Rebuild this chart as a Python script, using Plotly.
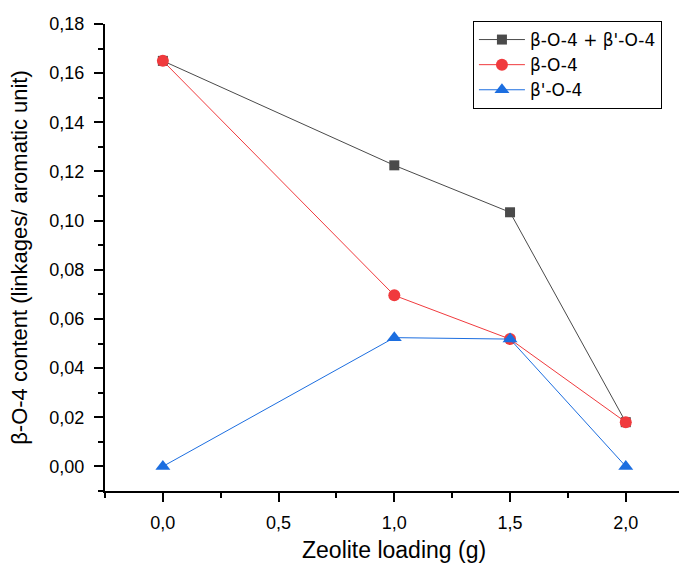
import plotly.graph_objects as go

x_vals = [0.0, 1.0, 1.5, 2.0]
total = [0.165, 0.1225, 0.1034, 0.018]
beta = [0.165, 0.0696, 0.0518, 0.018]
beta_prime = [0.0, 0.0524, 0.0518, 0.0]

series = [
    ("β-O-4 + β'-O-4", total, "#4a4a4a", "square", 10),
    ("β-O-4", beta, "#f03a3d", "circle", 12),
    ("β'-O-4", beta_prime, "#1c6ee0", "triangle-up", 13),
]

fig = go.Figure()
for name, vals, col, sym, sz in series:
    fig.add_trace(go.Scatter(
        x=x_vals, y=vals, name=name, mode="lines+markers",
        line=dict(color=col, width=1),
        marker=dict(symbol=sym, size=sz, color=col),
    ))

fig.update_layout(
    width=679, height=563,
    margin=dict(l=105, r=0, t=24, b=72),
    paper_bgcolor="white", plot_bgcolor="white",
    separators=",.",
    font=dict(family="Liberation Sans, Arial", color="black", size=18),
    showlegend=True,
    legend=dict(
        x=0.641, y=1.0064, xanchor="left", yanchor="top",
        bordercolor="black", borderwidth=1, bgcolor="white",
        font=dict(family="DejaVu Sans", size=17), tracegroupgap=0, itemwidth=46,
    ),
    annotations=[dict(
        text="Zeolite loading (g)", xref="paper", yref="paper",
        x=0.503, y=-0.126, xanchor="center", yanchor="middle",
        showarrow=False, font=dict(size=23),
    )],
)
fig.update_xaxes(
    range=[-0.25, 2.23], tickvals=[0, 0.5, 1.0, 1.5, 2.0], tickformat=".1f",
    showgrid=False, zeroline=False, showline=True, linecolor="black", linewidth=2,
    ticks="outside", ticklen=9, tickwidth=2, tickcolor="black", ticklabelstandoff=5,
    minor=dict(tickvals=[-0.25, 0.25, 0.75, 1.25, 1.75], ticks="outside", ticklen=5, tickwidth=2, tickcolor="black"),
    automargin=False,
)
fig.update_yaxes(
    range=[-0.01, 0.18], tickvals=[0, 0.02, 0.04, 0.06, 0.08, 0.10, 0.12, 0.14, 0.16, 0.18], tickformat=".2f",
    showgrid=False, zeroline=False, showline=True, linecolor="black", linewidth=2,
    ticks="outside", ticklen=9, tickwidth=2, tickcolor="black", ticklabelstandoff=6,
    minor=dict(tickvals=[-0.01, 0.01, 0.03, 0.05, 0.07, 0.09, 0.11, 0.13, 0.15, 0.17], ticks="outside", ticklen=5, tickwidth=2, tickcolor="black"),
    title=dict(text="β-O-4 content (linkages/ aromatic unit)", font=dict(size=22), standoff=16),
    automargin=False,
)

fig.write_html("out.html")
